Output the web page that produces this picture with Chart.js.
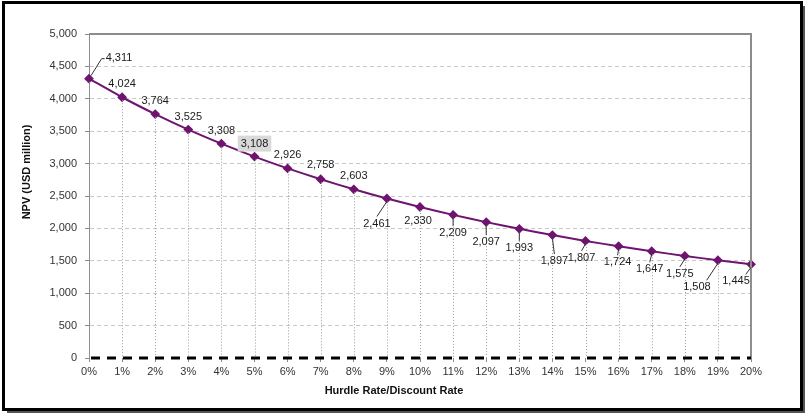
<!DOCTYPE html>
<html>
<head>
<meta charset="utf-8">
<script src="https://cdn.jsdelivr.net/npm/chart.js@4.4.1/dist/chart.umd.min.js"></script>
<style>
  html, body { margin: 0; padding: 0; background: #fff; }
  #wrap { width: 807px; height: 418px; position: relative; }
</style>
</head>
<body>
<div id="wrap"><canvas id="npvChart" width="807" height="418"></canvas></div>
<script>

// DATA
var rateLabels = ["0%", "1%", "2%", "3%", "4%", "5%", "6%", "7%", "8%", "9%", "10%",
    "11%", "12%", "13%", "14%", "15%", "16%", "17%", "18%", "19%", "20%"];

var npvValues = [4311, 4024, 3764, 3525, 3308, 3108, 2926, 2758, 2603, 2461, 2330,
    2209, 2097, 1993, 1897, 1807, 1724, 1647, 1575, 1508, 1445];

var yTicks = [0, 500, 1000, 1500, 2000, 2500, 3000, 3500, 4000, 4500, 5000];

var xTitle = "Hurdle Rate/Discount Rate";
var yTitle = "NPV (USD million)";

// label placement (dx, dy from the point, leader line yes/no)
var labelPlace = [
    [30, -21, true], [0, -13, false], [0, -13, false], [0, -13, false], [0, -13, false],
    [0, -13, false], [0, -13, false], [0, -14, false], [0, -13, false], [-10, 25, true],
    [-2, 14, false], [0, 18, true], [0, 20, true], [0, 19, true], [2, 26, true],
    [-4, 17, true], [-1, 16, true], [-2, 18, true], [-5, 18, true], [-21, 27, true],
    [-15, 17, true]
];

var purple = "#6e1470";
var fontFam = "'Liberation Sans', Arial, sans-serif";


// frame, borders, drop lines, zero line, labels, titles
var extras = {
    id: "extras",

    beforeDraw: function (chart) {
        var c = chart.ctx;
        c.save();
        c.fillStyle = "#fff";
        c.fillRect(0, 0, chart.width, chart.height);
        // shadow
        c.fillStyle = "#555";
        c.fillRect(7, 409, 798, 4);
        c.fillRect(802, 6, 3, 407);
        // frame
        c.strokeStyle = "#000";
        c.lineWidth = 3;
        c.strokeRect(3.5, 2.5, 798, 407);
        c.restore();
    },

    afterDatasetsDraw: function (chart) {
        var c = chart.ctx;
        var a = chart.chartArea;
        var xs = chart.scales.x;
        var ys = chart.scales.y;
        var y0 = ys.getPixelForValue(0);

        c.save();

        // top and right border
        c.strokeStyle = "#8c8c8c";
        c.lineWidth = 2;
        c.beginPath();
        c.moveTo(a.left, a.top);
        c.lineTo(a.right, a.top);
        c.lineTo(a.right, a.bottom);
        c.stroke();

        // drop lines
        c.strokeStyle = "#9a9a9a";
        c.lineWidth = 1;
        c.setLineDash([1, 2]);
        npvValues.forEach(function (v, i) {
            var px = Math.round(xs.getPixelForValue(i)) + 0.5;
            c.beginPath();
            c.moveTo(px, ys.getPixelForValue(v) + 3);
            c.lineTo(px, y0);
            c.stroke();
        });

        // zero line
        c.setLineDash([9, 7]);
        c.strokeStyle = "#000";
        c.lineWidth = 3;
        c.beginPath();
        c.moveTo(a.left + 2, y0);
        c.lineTo(a.right, y0);
        c.stroke();
        c.setLineDash([]);

        // labels
        c.font = "11px " + fontFam;
        c.textAlign = "center";
        c.textBaseline = "middle";
        npvValues.forEach(function (v, i) {
            var px = xs.getPixelForValue(i);
            var py = ys.getPixelForValue(v);
            var p = labelPlace[i];
            var lx = px + p[0];
            var ly = py + p[1];
            var txt = v.toLocaleString("en-US");
            var w = c.measureText(txt).width;

            if (p[2]) {
                c.strokeStyle = "#333";
                c.lineWidth = 1;
                c.beginPath();
                if (i === 0) {
                    c.moveTo(px + 2, py - 3);
                    c.lineTo(lx - w / 2 - 4, ly + 1);
                    c.lineTo(lx - w / 2 - 1, ly + 1);
                } else {
                    c.moveTo(px, py + 3);
                    var ex = lx;
                    if (p[0] < -12) ex = lx + w / 2 - 4;
                    c.lineTo(ex, ly - 7);
                }
                c.stroke();
            }

            if (i === 5) {
                c.fillStyle = "#d9d9d9";
                c.fillRect(lx - w / 2 - 3, ly - 8, w + 6, 16);
            }

            c.fillStyle = "#1a1a1a";
            c.fillText(txt, lx, ly);
        });

        // axis titles
        c.fillStyle = "#111";
        c.font = "bold 11px " + fontFam;
        c.fillText(xTitle, 394, 391);
        c.translate(27, 172);
        c.rotate(-Math.PI / 2);
        c.fillText(yTitle, 0, 0);

        c.restore();
    }
};


new Chart(
    document.getElementById("npvChart"),
    {
        type: "line",

        data: {
            labels: rateLabels,

            datasets: [{
                label: "NPV",
                data: npvValues,
                borderColor: purple,
                backgroundColor: purple,
                borderWidth: 2,
                tension: 0.2,
                pointStyle: "rectRot",
                pointRadius: 3.5,
                pointBackgroundColor: purple,
                pointBorderColor: purple,
                fill: false
            }]
        },

        options: {
            responsive: false,
            animation: false,
            devicePixelRatio: 1,

            layout: {
                padding: { left: 10, right: 56, top: 34, bottom: 10 }
            },

            plugins: {
                legend: { display: false },
                tooltip: { enabled: false }
            },

            scales: {
                x: {
                    offset: false,
                    afterFit: function (s) { s.height = 50; },
                    grid: {
                        drawOnChartArea: false,
                        tickLength: 4,
                        color: "#8c8c8c"
                    },
                    border: { display: false },
                    ticks: {
                        padding: 3,
                        maxRotation: 0,
                        autoSkip: false,
                        color: "#333",
                        font: { family: fontFam, size: 11 }
                    }
                },
                y: {
                    min: 0,
                    max: 5000,
                    afterFit: function (s) { s.width = 79; },
                    afterBuildTicks: function (s) {
                        s.ticks = yTicks.map(function (v) { return { value: v }; });
                    },
                    grid: {
                        color: function (ctx) {
                            return ctx.tick && ctx.tick.value === 0 ? "rgba(0,0,0,0)" : "#c8c8c8";
                        },
                        tickColor: "#8c8c8c",
                        tickLength: 4,
                        tickBorderDash: [],
                        borderDash: [4, 3]
                    },
                    border: {
                        display: true,
                        color: "#8c8c8c",
                        width: 1,
                        dash: [4, 3]
                    },
                    ticks: {
                        padding: 8,
                        color: "#333",
                        callback: function (v) { return v.toLocaleString("en-US"); },
                        font: { family: fontFam, size: 11 }
                    }
                }
            }
        },

        plugins: [extras]
    }
);

</script>
</body>
</html>
